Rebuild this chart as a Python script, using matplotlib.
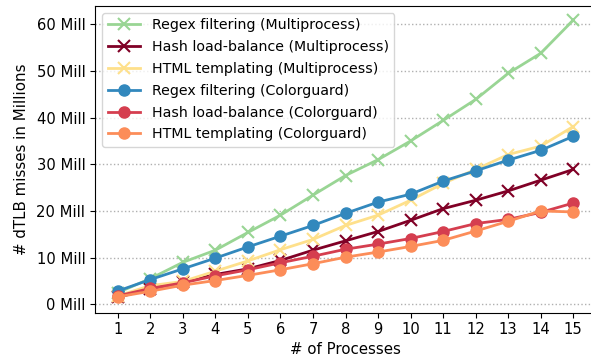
import matplotlib
matplotlib.use("Agg")
import matplotlib.pyplot as plt
from matplotlib.ticker import FuncFormatter

processes = list(range(1, 16))
regex_mp = [2.5, 5.5, 9.0, 11.6, 15.4, 19.1, 23.4, 27.6, 31.0, 35.0, 39.4, 43.9, 49.5, 53.8, 60.9]
hash_mp = [1.5, 3.3, 4.7, 6.4, 7.6, 9.4, 11.6, 13.6, 15.6, 18.0, 20.5, 22.3, 24.3, 26.6, 28.9]
html_mp = [1.8, 4.0, 4.9, 7.1, 9.3, 11.7, 13.9, 16.9, 19.1, 22.3, 25.9, 28.9, 32.1, 33.9, 38.1]
regex_cg = [2.85, 5.3, 7.6, 9.9, 12.3, 14.6, 16.9, 19.5, 21.9, 23.6, 26.4, 28.6, 30.9, 33.0, 36.0]
hash_cg = [1.8, 3.4, 4.6, 6.1, 7.4, 8.9, 10.3, 11.8, 12.9, 14.1, 15.6, 17.3, 18.2, 19.7, 21.7]
html_cg = [1.6, 2.8, 4.1, 5.1, 6.2, 7.4, 8.7, 10.1, 11.2, 12.4, 13.7, 15.7, 17.8, 20.0, 19.8]

fig = plt.figure(figsize=(5.91, 3.6), dpi=100)
ax = fig.add_axes([95 / 591, 1 - 312.7 / 360, (596 - 95) / 591, (312.7 - 5.7) / 360])

ax.plot(processes, regex_mp, color='#99d594', marker='x', ms=9, mew=1.5, lw=2, label='Regex filtering (Multiprocess)')
ax.plot(processes, hash_mp, color='#800026', marker='x', ms=9, mew=1.5, lw=2, label='Hash load-balance (Multiprocess)')
ax.plot(processes, html_mp, color='#fee08b', marker='x', ms=9, mew=1.5, lw=2, label='HTML templating (Multiprocess)')
ax.plot(processes, regex_cg, color='#3288bd', marker='o', ms=8, lw=2, label='Regex filtering (Colorguard)')
ax.plot(processes, hash_cg, color='#d53e4f', marker='o', ms=8, lw=2, label='Hash load-balance (Colorguard)')
ax.plot(processes, html_cg, color='#fc8d59', marker='o', ms=8, lw=2, label='HTML templating (Colorguard)')

ax.set_xticks(processes)
ax.set_xlim(0.3, 15.7)
ax.set_yticks(range(0, 61, 10))
ax.set_ylim(-1.8, 64.0)
ax.yaxis.set_major_formatter(FuncFormatter(lambda v, p: f"{int(v)} Mill"))
ax.tick_params(labelsize=10.6)
ax.grid(axis='y', linestyle=':', color='#b0b0b0', lw=1)
ax.set_axisbelow(True)
ax.set_xlabel('# of Processes', fontsize=10.8, labelpad=3)
ax.set_ylabel('# dTLB misses in Millions', fontsize=10.8, labelpad=5)
ax.legend(loc='upper left', fontsize=10.2, handlelength=2.3, labelspacing=0.55)

fig.savefig('out.png', dpi=100)
